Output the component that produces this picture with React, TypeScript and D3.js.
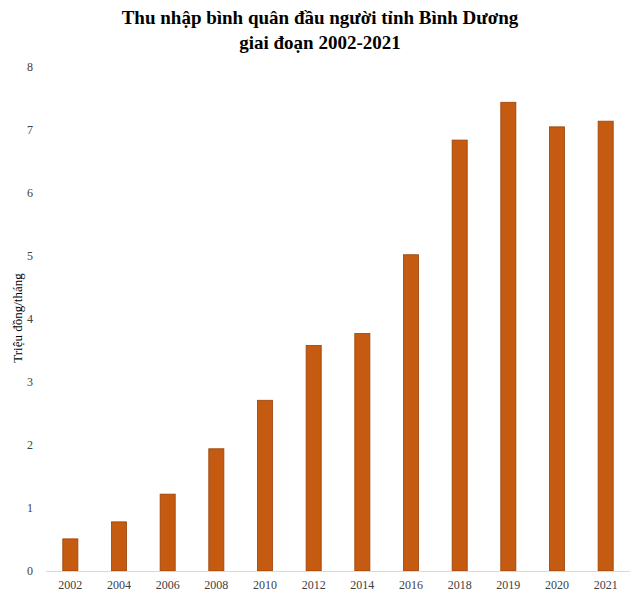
import React, { useEffect, useRef } from "react";
import * as d3 from "d3";

const years = ["2002", "2004", "2006", "2008", "2010", "2012", "2014", "2016", "2018", "2019", "2020", "2021"];
const income = [0.51, 0.78, 1.22, 1.94, 2.71, 3.58, 3.77, 5.02, 6.84, 7.44, 7.05, 7.14];
const yTicks = [0, 1, 2, 3, 4, 5, 6, 7, 8];

const W = 640;
const H = 597;
const margin = { top: 67, right: 10, bottom: 26, left: 46 };

export default function App() {
  const ref = useRef<SVGSVGElement>(null);

  useEffect(() => {
    const svg = d3.select(ref.current);
    svg.selectAll("*").remove();

    const x = d3.scaleBand().domain(years).range([margin.left, W - margin.right]).paddingInner(0.69).paddingOuter(0.345);
    const y = d3.scaleLinear().domain([0, 8]).range([H - margin.bottom, margin.top]);

    const font = "'Liberation Serif', 'Times New Roman', serif";

    // title
    const title = svg.append("text")
      .attr("x", W / 2)
      .attr("text-anchor", "middle")
      .attr("font-family", font)
      .attr("font-weight", "bold")
      .attr("font-size", 19)
      .attr("fill", "#000");
    title.append("tspan").attr("x", W / 2).attr("y", 24).text("Thu nhập bình quân đầu người tỉnh Bình Dương");
    title.append("tspan").attr("x", W / 2).attr("y", 49).text("giai đoạn 2002-2021");

    // y tick labels
    svg.append("g")
      .selectAll("text")
      .data(yTicks)
      .join("text")
      .attr("x", 33)
      .attr("y", d => y(d))
      .attr("dy", "0.35em")
      .attr("text-anchor", "end")
      .attr("font-family", font)
      .attr("font-size", 12)
      .attr("fill", "#404040")
      .text(d => d);

    // y label
    svg.append("text")
      .attr("transform", `translate(22,${318}) rotate(-90)`)
      .attr("text-anchor", "middle")
      .attr("font-family", font)
      .attr("font-size", 13)
      .attr("fill", "#000")
      .text("Triệu đồng/tháng");

    // bars
    svg.append("g")
      .selectAll("rect")
      .data(income)
      .join("rect")
      .attr("x", (d, i) => x(years[i])!)
      .attr("y", d => y(d))
      .attr("width", x.bandwidth())
      .attr("height", d => y(0) - y(d))
      .attr("fill", "#C55A11")
      .attr("stroke", "#9A4209")
      .attr("stroke-width", 0.8);

    // baseline
    svg.append("line")
      .attr("x1", margin.left)
      .attr("x2", W - margin.right)
      .attr("y1", y(0) + 0.5)
      .attr("y2", y(0) + 0.5)
      .attr("stroke", "#D9D9D9")
      .attr("stroke-width", 1);

    // x labels
    svg.append("g")
      .selectAll("text")
      .data(years)
      .join("text")
      .attr("x", d => x(d)! + x.bandwidth() / 2)
      .attr("y", 589)
      .attr("text-anchor", "middle")
      .attr("font-family", font)
      .attr("font-size", 12)
      .attr("fill", "#404040")
      .text(d => d);
  }, []);

  return (
    <svg ref={ref} width={W} height={H} style={{ position: "absolute", left: 0, top: 0, background: "#fff" }} />
  );
}
